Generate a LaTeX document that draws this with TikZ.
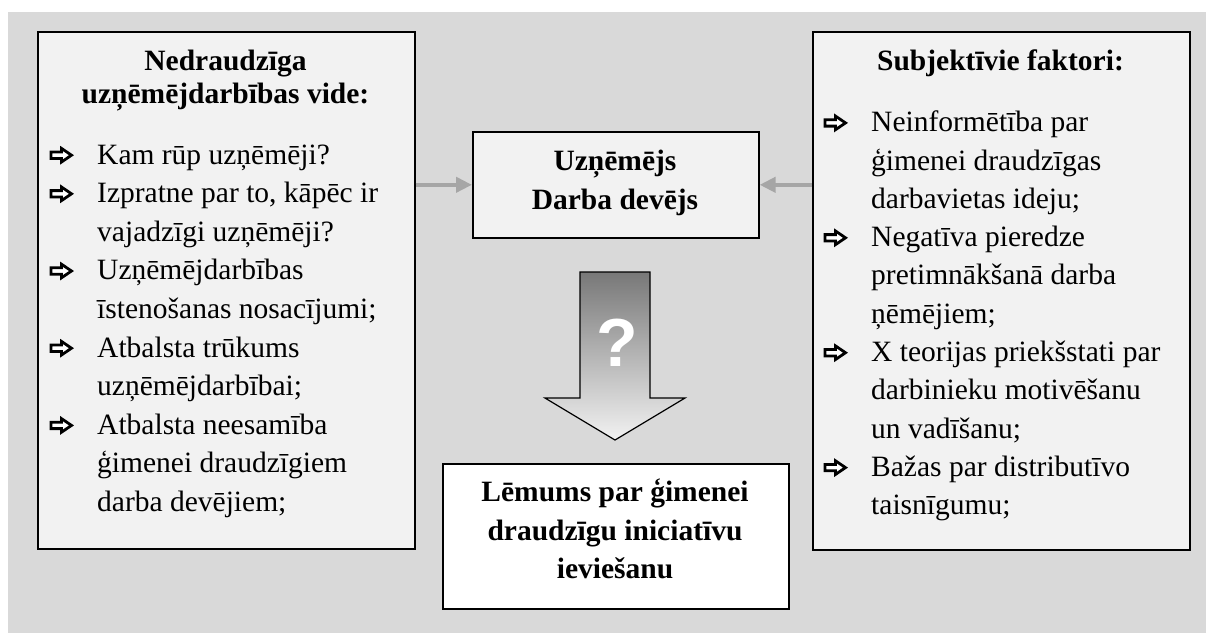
\documentclass[tikz,border=0pt]{standalone}
\usepackage{fontspec}
\setmainfont{Liberation Serif}
\newfontfamily\qfont{Liberation Sans}
\usetikzlibrary{arrows.meta,shadows}
\definecolor{bggray}{HTML}{D9D9D9}
\definecolor{boxfill}{HTML}{F2F2F2}
\definecolor{arrgray}{HTML}{A6A6A6}
\begin{document}
\begin{tikzpicture}[x=1pt,y=-1pt,
  box/.style={draw=black, line width=1.6pt, fill=boxfill, inner sep=0pt, anchor=north west,
    drop shadow={shadow xshift=1.3pt, shadow yshift=-1.3pt, fill=black!70, opacity=1}},
  body/.style={anchor=base west, inner sep=0pt, font=\fontsize{29.5}{38}\selectfont},
  head/.style={anchor=base, inner sep=0pt, font=\bfseries\fontsize{29.5}{38}\selectfont},
  link/.style={draw=arrgray, line width=4pt, -{Triangle[length=16pt,width=15pt]}},
  bullet/.style={draw=black, fill=white, line width=2.8pt, line join=miter},
  bul/.pic={\path[bullet] (0,-3.2) -- (10.5,-3.2) -- (10.5,-6.8) -- (20.5,0) -- (10.5,6.8) -- (10.5,3.2) -- (0,3.2) -- cycle;}]
\useasboundingbox (0,0) rectangle (1206,633);
\fill[bggray] (8,12) rectangle (1206,633);

% boxes
\node[box, minimum width=377pt, minimum height=517pt] (lbox) at (37,31) {};
\node[box, minimum width=377pt, minimum height=518pt] (rbox) at (812,31) {};
\node[box, minimum width=286pt, minimum height=106pt] (cbox) at (472,131) {};
\node[box, fill=white, line width=2pt, minimum width=346pt, minimum height=145pt] (bbox) at (442,463) {};

% left box text
\node[head] (lt1) at (225.5,70.7) {Nedraudzīga};
\node[head] (lt2) at (225.5,103.7) {uzņēmējdarbības vide:};
\foreach \t [count=\i from 0] in {{Kam rūp uzņēmēji?},{Izpratne par to, kāpēc ir},{vajadzīgi uzņēmēji?},{Uzņēmējdarbības},{īstenošanas nosacījumi;},{Atbalsta trūkums},{uzņēmējdarbībai;},{Atbalsta neesamība},{ģimenei draudzīgiem},{darba devējiem;}}
  \node[body, name=ll\i] at (97,{164+\i*38.6}) {\t};
\foreach \k in {0,1,3,5,7}
  \pic at (51,{164+\k*38.6-8.8}) {bul};

% right box text
\node[head] (rt1) at (1000.5,70.7) {Subjektīvie faktori:};
\foreach \t [count=\i from 0] in {{Neinformētība par},{ģimenei draudzīgas},{darbavietas ideju;},{Negatīva pieredze},{pretimnākšanā darba},{ņēmējiem;},{X teorijas priekšstati par},{darbinieku motivēšanu},{un vadīšanu;},{Bažas par distributīvo},{taisnīgumu;}}
  \node[body, name=rl\i] at (871,{131.7+\i*38.3}) {\t};
\foreach \k in {0,3,6,9}
  \pic at (825,{131.7+\k*38.3-8.8}) {bul};

% centre box text
\node[head] (ct1) at (615,170) {Uzņēmējs};
\node[head] (ct2) at (615,209) {Darba devējs};

% bottom box text
\node[head] (bt1) at (615,501.7) {Lēmums par ģimenei};
\node[head] (bt2) at (615,540) {draudzīgu iniciatīvu};
\node[head] (bt3) at (615,578.5) {ieviešanu};

% connectors
\draw[link] (lbox.east |- cbox.west) -- (cbox.west);
\draw[link] (rbox.west |- cbox.east) -- (cbox.east);

% big arrow
\shade[top color=black!53, bottom color=boxfill, draw=black, line width=1.2pt, line join=miter]
  (580,272) -- (650,272) -- (650,398) -- (685,398) -- (615,440) -- (545,398) -- (580,398) -- cycle;
\node[font=\qfont\bfseries\fontsize{68}{68}\selectfont, text=white, inner sep=0pt] (qm) at (617,343) {?};
\end{tikzpicture}
\end{document}
